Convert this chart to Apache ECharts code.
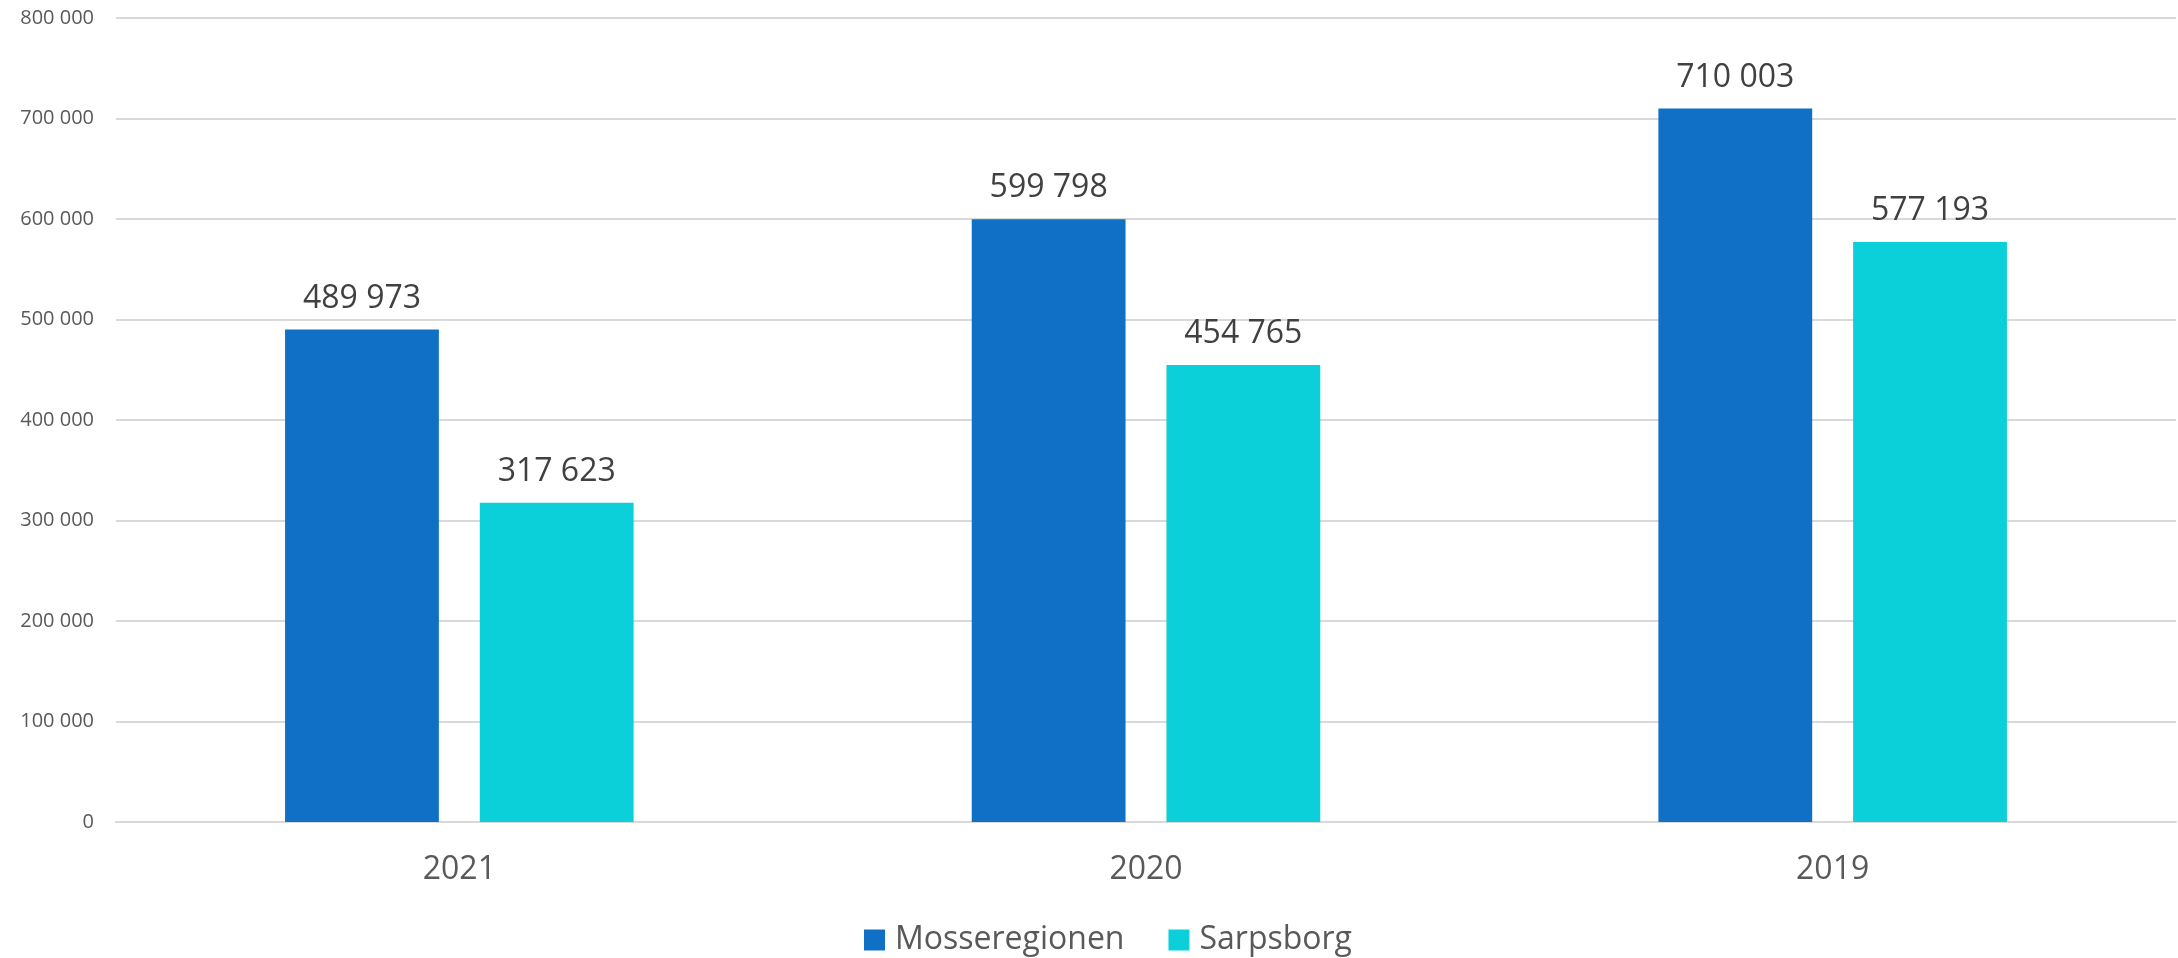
<!DOCTYPE html>
<html><head><meta charset="utf-8">
<script src="https://cdn.jsdelivr.net/npm/echarts@6/dist/echarts.min.js"></script>
<style>html,body{margin:0;padding:0;background:#fff}#c{width:2178px;height:958px}</style>
</head><body><div id="c"></div>
<script>
const categories = ['2021', '2020', '2019'];
const mosseregionen = [489973, 599798, 710003];
const sarpsborg = [317623, 454765, 577193];
const seriesNames = ['Mosseregionen', 'Sarpsborg'];

const fmt = v => String(v).replace(/\B(?=(\d{3})+(?!\d))/g, ' ');
const chart = echarts.init(document.getElementById('c'));
const labelCfg = {
  show: true, position: 'top', distance: 15,
  fontFamily: 'Open Sans', fontSize: 32, color: '#404040',
  formatter: p => fmt(p.value)
};
chart.setOption({
  animation: false,
  textStyle: { fontFamily: 'Open Sans' },
  grid: { left: 116, right: 2, top: 18, bottom: 136 },
  legend: {
    left: 859, top: 919, padding: 5, itemWidth: 21, itemHeight: 21, itemGap: 44,
    icon: 'rect',
    textStyle: { fontFamily: 'Open Sans', fontSize: 32, lineHeight: 32, color: '#595959', padding: [0, 0, 0, 5] },
    data: seriesNames
  },
  xAxis: {
    type: 'category', data: categories,
    axisLine: { lineStyle: { color: '#d9d9d9', width: 2 } },
    axisTick: { show: false },
    axisLabel: { fontFamily: 'Open Sans', fontSize: 32, lineHeight: 32, color: '#595959', margin: 32 }
  },
  yAxis: {
    type: 'value', min: 0, max: 800000, interval: 100000,
    axisLine: { show: false }, axisTick: { show: false },
    splitLine: { lineStyle: { color: '#d9d9d9', width: 2 } },
    axisLabel: { fontFamily: 'Open Sans', fontSize: 20, color: '#595959', margin: 22, formatter: v => fmt(v) }
  },
  series: [
    { name: seriesNames[0], type: 'bar', data: mosseregionen, barWidth: '22.4%', barGap: '26.6%',
      itemStyle: { color: '#0F70C5' }, label: labelCfg },
    { name: seriesNames[1], type: 'bar', data: sarpsborg, barWidth: '22.4%', barGap: '26.6%',
      itemStyle: { color: '#0CD0D9' }, label: labelCfg }
  ]
});
</script></body></html>
